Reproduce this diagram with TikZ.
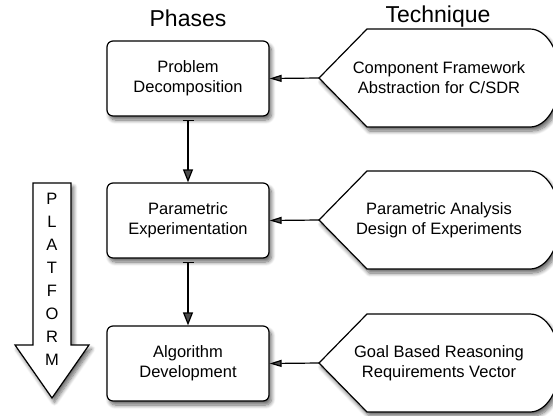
\documentclass[tikz,border=0pt]{standalone}
\usepackage{fontspec}
\setmainfont{Liberation Sans}
\usetikzlibrary{arrows.meta,shadows.blur}
\begin{document}
\begin{tikzpicture}[x=1pt,y=-1pt,
  softshadow/.style={blur shadow={shadow xshift=2.5pt,shadow yshift=-4pt,shadow blur radius=4pt,shadow blur steps=8,shadow opacity=60}},
  phasebox/.style={draw,line width=1.2pt,fill=white,rounded corners=6pt,minimum width=162pt,minimum height=75pt,align=center,font=\fontsize{16.5}{20}\selectfont,softshadow},
  techshape/.style={draw,line width=1.2pt,fill=white,softshadow},
  techtext/.style={align=center,font=\fontsize{16.5}{20}\selectfont},
  heading/.style={font=\fontsize{23}{26}\selectfont},
  flow/.style={line width=1.2pt,{Bar[width=11pt]}-{Triangle[length=13pt,width=10pt]},shorten <=3pt},
  feed/.style={line width=1.2pt,-{Triangle[length=12pt,width=7pt]}}
]
\useasboundingbox (0,0) rectangle (553,415);
\clip (0,0) rectangle (553,415);

% column headings
\node[heading] (hphase) at (188,18) {Phases};
\node[heading] (htech) at (438,17) {Technique};

% platform arrow
\path[techshape] (33,183) -- (71,183) -- (71,345) -- (89,345) -- (52,398) -- (15,345) -- (33,345) -- cycle;
\node[techtext,font=\fontsize{16.5}{23}\selectfont] (platform) at (52,279) {P\\L\\A\\T\\F\\O\\R\\M};

% phase boxes
\node[phasebox] (p1) at (188,78.5) {Problem\\Decomposition};
\node[phasebox] (p2) at (188,220.5) {Parametric\\Experimentation};
\node[phasebox] (p3) at (188,363.5) {Algorithm\\Development};

% technique shapes (pointed left end, rounded right end)
\foreach \cy/\name in {78/t1,220/t2,363/t3}{
  \path[techshape] (319,\cy) -- (367,\cy-49) -- (530,\cy-49)
    arc[start angle=90,end angle=-90,x radius=30,y radius=-49]
    -- (367,\cy+49) -- cycle;
  \coordinate (\name) at (319,\cy);
}
\node[techtext] (t1text) at (439,78) {Component Framework\\Abstraction for C/SDR};
\node[techtext] (t2text) at (439,220) {Parametric Analysis\\Design of Experiments};
\node[techtext] (t3text) at (439,363) {Goal Based Reasoning\\Requirements Vector};

% connectors
\draw[flow] (p1.south) -- (p2.north);
\draw[flow] (p2.south) -- (p3.north);
\draw[feed] (t1) -- (p1.east);
\draw[feed] (t2) -- (p2.east);
\draw[feed] (t3) -- (p3.east);
\end{tikzpicture}
\end{document}
